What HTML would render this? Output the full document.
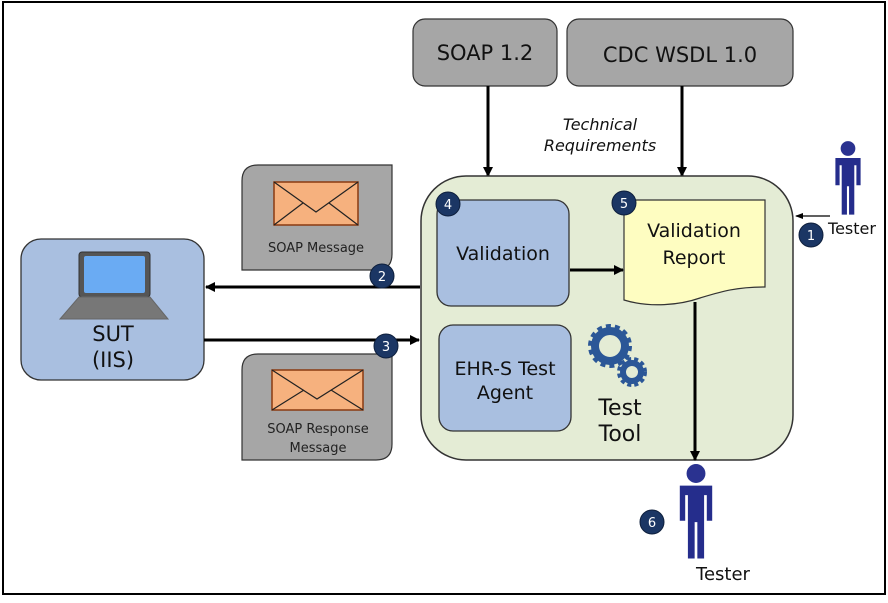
<!DOCTYPE html>
<html><head><style>
body{margin:0;background:#fff;}
svg text{font-family:"DejaVu Sans","Liberation Sans",sans-serif;}
</style></head><body>
<svg width="888" height="598" viewBox="0 0 888 598" xmlns="http://www.w3.org/2000/svg">
<defs>
<marker id="ah" markerWidth="10" markerHeight="10" refX="9" refY="5" orient="auto" markerUnits="userSpaceOnUse"><path d="M0,0 L10,5 L0,10 z" fill="#000"/></marker>
<marker id="ahs" markerWidth="8" markerHeight="6" refX="7" refY="3" orient="auto" markerUnits="userSpaceOnUse"><path d="M0,0 L8,3 L0,6 z" fill="#000"/></marker>
<g id="person"><circle cx="0" cy="-30" r="7" fill="#2a3290"/><path d="M-12,-21 H12 V5 H8 V-14 H6 V33 H1 V6 H-1 V33 H-6 V-14 H-8 V5 H-12 z" fill="#252d8c"/></g>
</defs>
<rect x="3" y="2" width="882" height="592" fill="#fff" stroke="#000" stroke-width="2"/>
<rect x="413" y="19" width="144" height="67" rx="12" fill="#a6a6a6" stroke="#333" stroke-width="1.2"/>
<text x="485" y="60" font-size="21" text-anchor="middle" fill="#111">SOAP 1.2</text>
<rect x="567" y="19" width="226" height="67" rx="12" fill="#a6a6a6" stroke="#333" stroke-width="1.2"/>
<text x="680" y="62" font-size="21" text-anchor="middle" fill="#111">CDC WSDL 1.0</text>
<line x1="488" y1="86" x2="488" y2="176" stroke="#000" stroke-width="3" marker-end="url(#ah)"/>
<line x1="682" y1="86" x2="682" y2="176" stroke="#000" stroke-width="3" marker-end="url(#ah)"/>
<text x="600" y="130" font-size="16" font-style="italic" text-anchor="middle" fill="#111">Technical</text>
<text x="600" y="151" font-size="16" font-style="italic" text-anchor="middle" fill="#111">Requirements</text>
<rect x="421" y="176" width="372" height="284" rx="45" fill="#e4ecd5" stroke="#333" stroke-width="1.5"/>
<rect x="437" y="200" width="132" height="106" rx="14" fill="#a9bfe0" stroke="#333" stroke-width="1.3"/>
<text x="503" y="260" font-size="19" text-anchor="middle" fill="#111">Validation</text>
<path d="M624,200 H765 V287 C735,287 720,292 700,298 C680,305 650,308 624,300 z" fill="#fefdc1" stroke="#333" stroke-width="1.2"/>
<text x="694" y="237" font-size="19" text-anchor="middle" fill="#111">Validation</text>
<text x="694" y="264" font-size="19" text-anchor="middle" fill="#111">Report</text>
<line x1="570" y1="270" x2="623" y2="270" stroke="#000" stroke-width="3" marker-end="url(#ah)"/>
<rect x="439" y="325" width="132" height="106" rx="14" fill="#a9bfe0" stroke="#333" stroke-width="1.3"/>
<text x="505" y="375" font-size="19" text-anchor="middle" fill="#111">EHR-S Test</text>
<text x="505" y="399" font-size="19" text-anchor="middle" fill="#111">Agent</text>
<g fill="none" stroke="#2b5797">
<circle cx="610" cy="346" r="15" stroke-width="8"/>
<circle cx="610" cy="346" r="20" stroke-width="4" stroke-dasharray="5 4"/>
<circle cx="632" cy="372" r="9" stroke-width="6"/>
<circle cx="632" cy="372" r="13" stroke-width="4" stroke-dasharray="4 3"/>
</g>
<text x="620" y="415" font-size="22" text-anchor="middle" fill="#111">Test</text>
<text x="620" y="441" font-size="22" text-anchor="middle" fill="#111">Tool</text>
<line x1="695" y1="302" x2="695" y2="460" stroke="#000" stroke-width="3" marker-end="url(#ah)"/>
<use href="#person" transform="translate(848,180) scale(1.05)"/>
<text x="852" y="234" font-size="16" text-anchor="middle" fill="#111">Tester</text>
<line x1="830" y1="216" x2="796" y2="216" stroke="#000" stroke-width="1.3" marker-end="url(#ahs)"/>
<use href="#person" transform="translate(696,514) scale(1.35)"/>
<text x="723" y="580" font-size="18" text-anchor="middle" fill="#111">Tester</text>
<rect x="21" y="239" width="183" height="141" rx="20" fill="#a9bfe0" stroke="#333" stroke-width="1.3"/>
<rect x="79" y="252" width="71" height="45" rx="3" fill="#555" stroke="#333"/>
<rect x="84" y="256" width="61" height="37" rx="2" fill="#6aabf3"/>
<path d="M79,297 H150 L168,319 H60 z" fill="#777" stroke="#666"/>
<text x="113" y="341" font-size="21" text-anchor="middle" fill="#111">SUT</text>
<text x="113" y="367" font-size="21" text-anchor="middle" fill="#111">(IIS)</text>
<path d="M258,165 H392 V254 Q392,270 376,270 H242 V181 Q242,165 258,165 z" fill="#a6a6a6" stroke="#333" stroke-width="1.2"/>
<rect x="274" y="182" width="84" height="43" fill="#f6b17e" stroke="#8a3a10" stroke-width="1.5"/>
<path d="M274,182 L316,212 L358,182 M274,225 L303,203 M358,225 L329,203" fill="none" stroke="#222" stroke-width="1.2"/>
<text x="316" y="252" font-size="13" text-anchor="middle" fill="#222">SOAP Message</text>
<path d="M258,354 H392 V444 Q392,460 376,460 H242 V370 Q242,354 258,354 z" fill="#a6a6a6" stroke="#333" stroke-width="1.2"/>
<rect x="272" y="370" width="91" height="40" fill="#f6b17e" stroke="#8a3a10" stroke-width="1.5"/>
<path d="M272,370 L317,399 L363,370 M272,410 L304,390 M363,410 L331,390" fill="none" stroke="#222" stroke-width="1.2"/>
<text x="318" y="433" font-size="13" text-anchor="middle" fill="#222">SOAP Response</text>
<text x="318" y="452" font-size="13" text-anchor="middle" fill="#222">Message</text>
<line x1="420" y1="287" x2="206" y2="287" stroke="#000" stroke-width="3" marker-end="url(#ah)"/>
<line x1="204" y1="340" x2="419" y2="340" stroke="#000" stroke-width="3" marker-end="url(#ah)"/>
<g font-size="13" fill="#fff" text-anchor="middle">
<circle cx="382" cy="276" r="12" fill="#1b3664" stroke="#0e1f3c"/><text x="382" y="281">2</text>
<circle cx="386" cy="346" r="12" fill="#1b3664" stroke="#0e1f3c"/><text x="386" y="351">3</text>
<circle cx="448" cy="204" r="12" fill="#1b3664" stroke="#0e1f3c"/><text x="448" y="209">4</text>
<circle cx="624" cy="203" r="12" fill="#1b3664" stroke="#0e1f3c"/><text x="624" y="208">5</text>
<circle cx="811" cy="235" r="12" fill="#1b3664" stroke="#0e1f3c"/><text x="811" y="240">1</text>
<circle cx="652" cy="522" r="12" fill="#1b3664" stroke="#0e1f3c"/><text x="652" y="527">6</text>
</g>
</svg>
</body></html>
